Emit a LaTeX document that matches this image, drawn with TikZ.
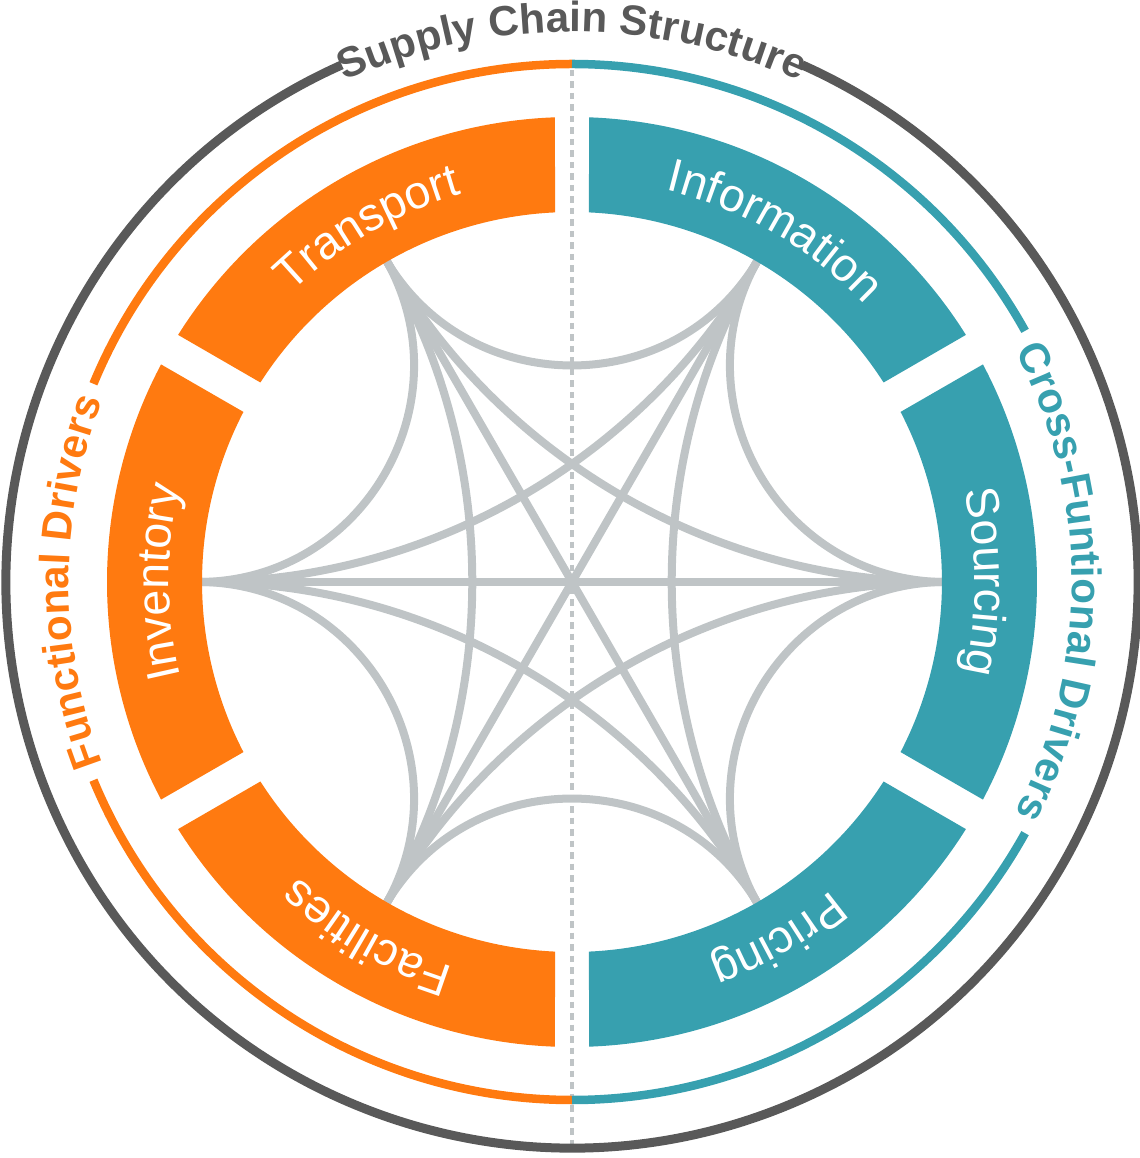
\documentclass[tikz,border=0pt]{standalone}
\usepackage{fontspec}
\setmainfont{Liberation Sans}
\usetikzlibrary{decorations.text}

\definecolor{scorange}{HTML}{FF7A10}
\definecolor{scteal}{HTML}{37A0AF}
\definecolor{scgray}{HTML}{BFC4C6}
\definecolor{scdark}{HTML}{595959}

\newcommand{\labelfont}{\fontsize{26.5}{30}\selectfont}
\newcommand{\titlefont}{\fontsize{24}{28}\selectfont\bfseries}

\begin{document}
\begin{tikzpicture}[x=0.2mm, y=0.2mm,
    chord/.style={draw=scgray, line width=1.6mm},
    ring/.style={line width=1.7mm},
    divider/.style={draw=scgray, line width=0.85mm, dash pattern=on 1.3mm off 1mm},
    seglabel/.style={decorate, decoration={text along path, text align=center, text color=white, text={|\labelfont|#1}}},
    ringlabel/.style 2 args={decorate, decoration={text along path, text align=center, text color=#1, text={|\titlefont|#2}}}]

    \useasboundingbox (-572,-576) rectangle (567,582);

    % Driver points on the inner edge
    \coordinate (sourcing) at (0:370);
    \coordinate (information) at (60:370);
    \coordinate (transport) at (120:370);
    \coordinate (inventory) at (180:370);
    \coordinate (facilities) at (240:370);
    \coordinate (pricing) at (300:370);
    \coordinate (top) at (90:512);
    \coordinate (bottom) at (270:570);

    % Dotted divider
    \draw[divider] (top) -- (bottom);

    % Connections between neighbours
    \draw[chord] (sourcing) to[bend left=59, looseness=1.12] (information);
    \draw[chord] (information) to[bend left=59, looseness=1.12] (transport);
    \draw[chord] (transport) to[bend left=59, looseness=1.12] (inventory);
    \draw[chord] (inventory) to[bend left=59, looseness=1.12] (facilities);
    \draw[chord] (facilities) to[bend left=59, looseness=1.12] (pricing);
    \draw[chord] (pricing) to[bend left=59, looseness=1.12] (sourcing);

    % Connections skipping one driver
    \draw[chord] (sourcing) to[bend left=30, looseness=0.91] (transport);
    \draw[chord] (information) to[bend left=30, looseness=0.91] (inventory);
    \draw[chord] (transport) to[bend left=30, looseness=0.91] (facilities);
    \draw[chord] (inventory) to[bend left=30, looseness=0.91] (pricing);
    \draw[chord] (facilities) to[bend left=30, looseness=0.91] (sourcing);
    \draw[chord] (pricing) to[bend left=30, looseness=0.91] (information);

    % Diameters
    \draw[chord] (sourcing) -- (inventory);
    \draw[chord] (information) -- (facilities);
    \draw[chord] (transport) -- (pricing);

    % Segments
    \foreach \mid/\col in {0/scteal, 60/scteal, 300/scteal, 120/scorange, 180/scorange, 240/scorange} {
        \fill[\col] ({\mid+27.9}:465) arc[start angle=\mid+27.9, end angle=\mid-27.9, radius=465]
            -- ({\mid-27.37}:370) arc[start angle=\mid-27.37, end angle=\mid+27.37, radius=370] -- cycle;
    }

    % Segment labels
    \path[seglabel=Transport] (150:403) arc[start angle=150, end angle=90, radius=403];
    \path[seglabel=Information] (90:403) arc[start angle=90, end angle=30, radius=403];
    \path[seglabel=Sourcing] (30:403) arc[start angle=30, end angle=-30, radius=403];
    \path[seglabel=Pricing] (-30:403) arc[start angle=-30, end angle=-90, radius=403];
    \path[seglabel=Facilities] (270:403) arc[start angle=270, end angle=210, radius=403];
    \path[seglabel=Inventory] (210:403) arc[start angle=210, end angle=150, radius=403];

    % Group arcs
    \draw[scorange, ring] (90:518) arc[start angle=90, end angle=157.5, radius=518];
    \draw[scorange, ring] (202.5:518) arc[start angle=202.5, end angle=270, radius=518];
    \draw[scteal, ring] (90:518) arc[start angle=90, end angle=29, radius=518];
    \draw[scteal, ring] (-29:518) arc[start angle=-29, end angle=-90, radius=518];
    \path[ringlabel={scorange}{Functional Drivers}] (215:503) arc[start angle=215, end angle=145, radius=503];
    \path[ringlabel={scteal}{Cross-Funtional Drivers}] (35:500) arc[start angle=35, end angle=-35, radius=500];

    % Outer ring
    \draw[scdark, line width=1.8mm] (114:566) arc[start angle=114, end angle=426, radius=566];
    \path[ringlabel={scdark}{Supply Chain Structure}] (125:550) arc[start angle=125, end angle=55, radius=550];
\end{tikzpicture}
\end{document}
